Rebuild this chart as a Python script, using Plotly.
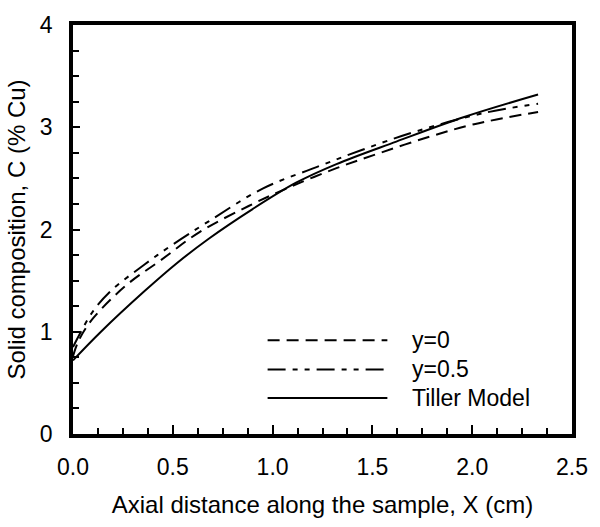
import plotly.graph_objects as go

# Data
x_y0 = [0.0, 0.03, 0.10, 0.27, 0.44, 0.63, 0.88, 1.08, 1.32, 1.54, 1.79, 2.01, 2.33]
c_y0 = [0.76, 0.92, 1.13, 1.46, 1.70, 1.97, 2.23, 2.41, 2.60, 2.75, 2.91, 3.03, 3.15]

x_y05 = [0.0, 0.04, 0.10, 0.19, 0.36, 0.49, 0.68, 0.95, 1.22, 1.45, 1.72, 2.06, 2.33]
c_y05 = [0.85, 1.00, 1.20, 1.40, 1.66, 1.84, 2.08, 2.40, 2.61, 2.78, 2.96, 3.14, 3.23]

x_tiller = [0.0, 0.14, 0.36, 0.52, 0.68, 0.90, 1.12, 1.32, 1.62, 1.96, 2.33]
c_tiller = [0.72, 1.00, 1.40, 1.67, 1.91, 2.20, 2.46, 2.64, 2.86, 3.10, 3.32]

legend_labels = ["y=0", "y=0.5", "Tiller Model"]

FONT = "Liberation Sans, Arial, Helvetica, sans-serif"
FS = 23
FS_TITLE = 24
dash_y0 = "12px,7px"
dash_y05 = "18px,7px,5px,7px,5px,7px"

fig = go.Figure()
fig.add_trace(go.Scatter(x=x_y0, y=c_y0, mode="lines", name=legend_labels[0],
                         line=dict(color="black", width=2, dash=dash_y0, shape="spline", smoothing=1.0)))
fig.add_trace(go.Scatter(x=x_y05, y=c_y05, mode="lines", name=legend_labels[1],
                         line=dict(color="black", width=2, dash=dash_y05, shape="spline", smoothing=1.0)))
fig.add_trace(go.Scatter(x=x_tiller, y=c_tiller, mode="lines", name=legend_labels[2],
                         line=dict(color="black", width=2, shape="spline", smoothing=1.0)))

# Custom legend (long line samples as in the reference)
rows_y = [0.229, 0.158, 0.088]
dashes = [dash_y0, dash_y05, "solid"]
for lab, yy, d in zip(legend_labels, rows_y, dashes):
    fig.add_shape(type="line", xref="paper", yref="paper", x0=0.39, x1=0.63, y0=yy, y1=yy,
                  line=dict(color="black", width=2, dash=d))
    fig.add_annotation(xref="paper", yref="paper", x=0.675, y=yy, text=lab, showarrow=False,
                       xanchor="left", yanchor="middle", font=dict(family=FONT, size=FS, color="black"))

axis_common = dict(
    showgrid=False, zeroline=False, showline=True, linecolor="black", linewidth=3.5,
    mirror=True, ticks="inside", tickcolor="black", tickwidth=2,
    tickfont=dict(family=FONT, size=FS, color="black"),
)
fig.update_xaxes(range=[0, 2.5], dtick=0.5, tick0=0, tickformat=".1f", ticklen=9,
                 ticklabelstandoff=10,
                 minor=dict(dtick=0.125, ticklen=6, tickwidth=2, ticks="inside", tickcolor="black"),
                 title=dict(text="Axial distance along the sample, X (cm)",
                            font=dict(family=FONT, size=FS_TITLE, color="black"), standoff=18),
                 **axis_common)
fig.update_yaxes(range=[0, 4], dtick=1, tick0=0, ticklen=7, ticklabelstandoff=12,
                 minor=dict(dtick=0.25, ticklen=6, tickwidth=2, ticks="inside", tickcolor="black"),
                 title=dict(text="Solid composition, C (% Cu)",
                            font=dict(family=FONT, size=FS_TITLE, color="black"), standoff=8),
                 **axis_common)

fig.update_layout(
    width=600, height=527,
    margin=dict(l=73, r=24, t=17, b=90),
    plot_bgcolor="white", paper_bgcolor="white",
    showlegend=False,
    font=dict(family=FONT, color="black"),
)

fig.write_html("out.html")
